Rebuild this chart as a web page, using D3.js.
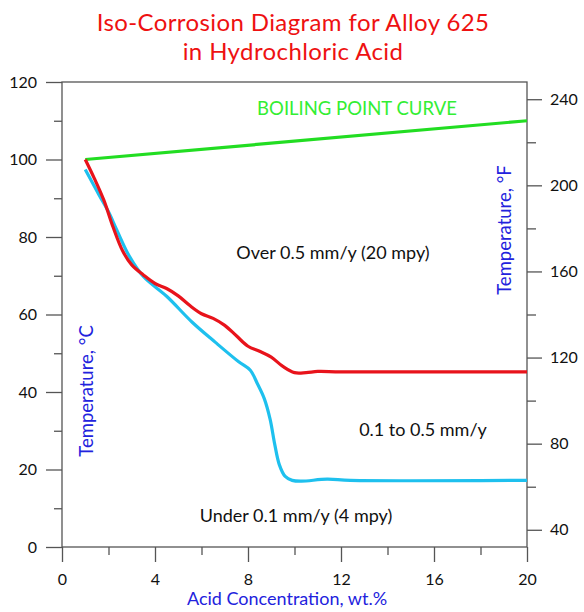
<!DOCTYPE html>
<html>
<head>
<meta charset="utf-8">
<script src="https://cdn.jsdelivr.net/npm/d3@7"></script>
<style>
  body { margin: 0; background: #fff; }
  svg { font-family: "Lato", "Open Sans", sans-serif; }
</style>
</head>
<body>
<div class="chart"></div>
<script>
// boiling point curve
const boilAcid = [1, 20];
const boilTemp = [100, 110];

// 0.5 mm/y iso-corrosion line (red)
const redAcid = [1, 1.4, 1.8, 2.2, 2.6, 3.0, 3.5, 4.0, 4.5, 5.0, 5.5, 6.0, 6.5, 7.0, 7.5, 8.0, 8.5, 9.0, 9.5, 10.0, 10.5, 11, 12, 20];
const redTemp = [100, 95, 89.5, 82.5, 76.5, 72.8, 70.2, 68.0, 66.7, 64.8, 62.3, 60.2, 59.0, 57.2, 54.5, 51.8, 50.5, 49.0, 46.6, 45.0, 45.0, 45.3, 45.2, 45.2];

// 0.1 mm/y iso-corrosion line (cyan)
const cyanAcid = [1, 1.6, 2.0, 2.35, 2.9, 3.5, 4.5, 5.6, 6.6, 7.6, 8.1, 8.4, 8.7, 8.95, 9.15, 9.35, 9.6, 9.9, 10.3, 11.4, 12.4, 20];
const cyanTemp = [97.4, 90.8, 86.5, 81.9, 75.0, 69.8, 64.7, 58.0, 52.8, 47.8, 45.6, 42.2, 38.3, 33.0, 26.5, 21.2, 18.2, 17.2, 17.0, 17.5, 17.2, 17.2];

// ticks
const xMajor = [0, 4, 8, 12, 16, 20];
const xMinor = [2, 6, 10, 14, 18];
const cMajor = [0, 20, 40, 60, 80, 100, 120];
const cMinor = [10, 30, 50, 70, 90, 110];
const fMajor = [40, 80, 120, 160, 200, 240];
const fMinor = [60, 100, 140, 180, 220];

const width = 584, height = 612;
const plotLeft = 62, plotRight = 527, plotTop = 82, plotBottom = 547;

const svg = d3.select(".chart").append("svg")
    .attr("width", width)
    .attr("height", height);

const x = d3.scaleLinear().domain([0, 20]).range([plotLeft, plotRight]);
const yC = d3.scaleLinear().domain([0, 120]).range([plotBottom, plotTop]);
const yF = d3.scaleLinear().domain([32, 248]).range([plotBottom, plotTop]);

const axisColor = "#555";

// frame
svg.append("rect")
    .attr("x", plotLeft).attr("y", plotTop)
    .attr("width", plotRight - plotLeft).attr("height", plotBottom - plotTop)
    .attr("fill", "none").attr("stroke", axisColor).attr("stroke-width", 1.3);

function styleAxis(g) {
    g.select(".domain").remove();
    g.selectAll("line").attr("stroke", axisColor).attr("stroke-width", 1.3);
    g.selectAll("text").attr("fill", "#111").attr("font-size", 16)
        .attr("font-family", "Lato, sans-serif");
}

// bottom axis
svg.append("g").attr("transform", `translate(0,${plotBottom})`)
    .call(d3.axisBottom(x).tickValues(xMinor).tickSize(8).tickFormat(""))
    .call(styleAxis);
svg.append("g").attr("transform", `translate(0,${plotBottom})`)
    .call(d3.axisBottom(x).tickValues(xMajor).tickSize(15).tickPadding(12))
    .call(styleAxis);

// left axis
svg.append("g").attr("transform", `translate(${plotLeft},0)`)
    .call(d3.axisLeft(yC).tickValues(cMinor).tickSize(8).tickFormat(""))
    .call(styleAxis);
svg.append("g").attr("transform", `translate(${plotLeft},0)`)
    .call(d3.axisLeft(yC).tickValues(cMajor).tickSize(16).tickPadding(9))
    .call(styleAxis);

// right axis (F)
svg.append("g").attr("transform", `translate(${plotRight},0)`)
    .call(d3.axisRight(yF).tickValues(fMinor).tickSize(9).tickFormat(""))
    .call(styleAxis);
svg.append("g").attr("transform", `translate(${plotRight},0)`)
    .call(d3.axisRight(yF).tickValues(fMajor).tickSize(15).tickPadding(8))
    .call(styleAxis);

// curves
const line = d3.line()
    .x(d => x(d[0]))
    .y(d => yC(d[1]))
    .curve(d3.curveCatmullRom.alpha(0.5));

const curves = [
    { acid: boilAcid, temp: boilTemp, color: "#22dd22" },
    { acid: cyanAcid, temp: cyanTemp, color: "#1ec0ee" },
    { acid: redAcid, temp: redTemp, color: "#e8131b" }
];

svg.selectAll(".curve")
    .data(curves)
    .enter()
    .append("path")
    .attr("class", "curve")
    .attr("d", c => line(c.acid.map((a, i) => [a, c.temp[i]])))
    .attr("fill", "none")
    .attr("stroke", c => c.color)
    .attr("stroke-width", 3.2)
    .attr("stroke-linejoin", "round");

// title
const titleLines = [
    { text: "Iso-Corrosion Diagram for Alloy 625", y: 31 },
    { text: "in Hydrochloric Acid", y: 60 }
];
svg.selectAll(".title")
    .data(titleLines)
    .enter()
    .append("text")
    .attr("class", "title")
    .attr("x", 293)
    .attr("y", d => d.y)
    .attr("text-anchor", "middle")
    .attr("font-size", 24)
    .attr("letter-spacing", 0.4)
    .attr("fill", "#ee1111")
    .text(d => d.text);

// axis titles
svg.append("text")
    .attr("x", 287).attr("y", 605)
    .attr("text-anchor", "middle")
    .attr("font-size", 18)
    .attr("fill", "#2222dd")
    .text("Acid Concentration, wt.%");
svg.append("text")
    .attr("transform", "translate(93,391) rotate(-90)")
    .attr("text-anchor", "middle")
    .attr("font-size", 18.5)
    .attr("fill", "#2222dd")
    .text("Temperature, °C");
svg.append("text")
    .attr("transform", "translate(511,230) rotate(-90)")
    .attr("text-anchor", "middle")
    .attr("font-size", 18.5)
    .attr("fill", "#2222dd")
    .text("Temperature, °F");

// region labels
svg.append("text")
    .attr("x", 357).attr("y", 115)
    .attr("text-anchor", "middle")
    .attr("font-size", 18.5)
    .attr("fill", "#33ee33")
    .text("BOILING POINT CURVE");

const regions = [
    { text: "Over 0.5 mm/y (20 mpy)", cx: 333, y: 259 },
    { text: "0.1 to 0.5 mm/y", cx: 423, y: 436 },
    { text: "Under 0.1 mm/y (4 mpy)", cx: 296, y: 522 }
];
svg.selectAll(".region")
    .data(regions)
    .enter()
    .append("text")
    .attr("class", "region")
    .attr("x", d => d.cx)
    .attr("y", d => d.y)
    .attr("text-anchor", "middle")
    .attr("font-size", 18)
    .attr("fill", "#111")
    .text(d => d.text);
</script>
</body>
</html>
